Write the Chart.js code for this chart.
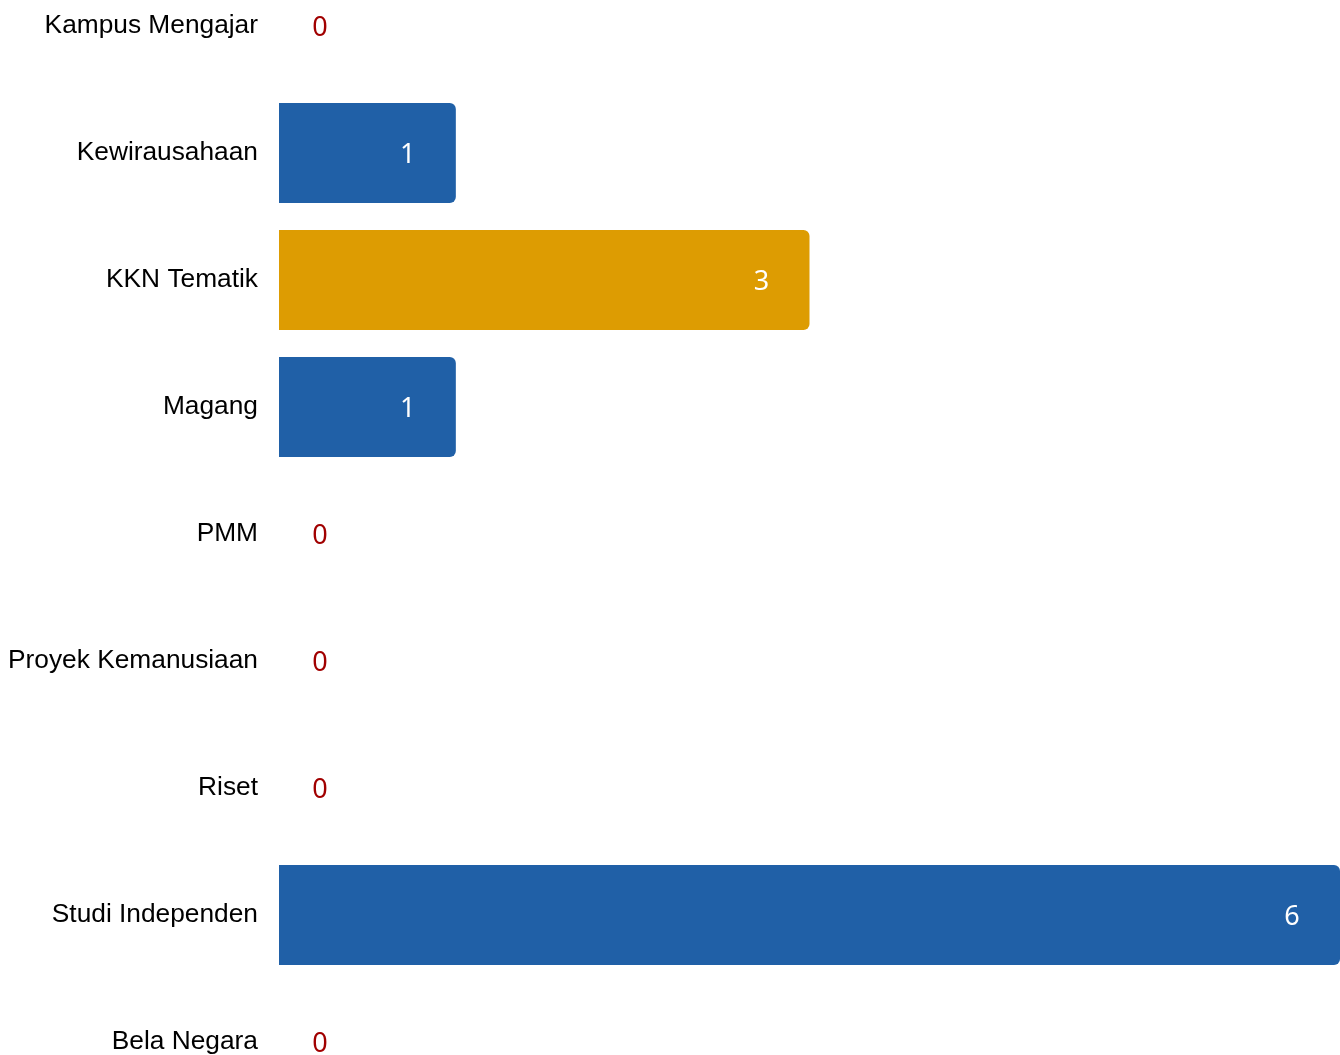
<!DOCTYPE html>
<html>
<head>
<meta charset="utf-8">
<script src="https://cdn.jsdelivr.net/npm/chart.js@4/dist/chart.umd.min.js"></script>
<style>
  html, body { margin: 0; padding: 0; background: #fff; }
  #wrap { width: 1340px; height: 1055px; position: relative; }
</style>
</head>
<body>
<div id="wrap"><canvas id="c"></canvas></div>
<script>
const categories = ["Kampus Mengajar", "Kewirausahaan", "KKN Tematik", "Magang", "PMM", "Proyek Kemanusiaan", "Riset", "Studi Independen", "Bela Negara"];
const values = [0, 1, 3, 1, 0, 0, 0, 6, 0];
const highlighted = "KKN Tematik";

const BLUE = "#2060a7";
const GOLD = "#dd9c02";
const barColors = categories.map(c => c === highlighted ? GOLD : BLUE);

const valueLabels = {
  id: "valueLabels",
  afterDatasetsDraw(chart) {
    const ctx = chart.ctx;
    const meta = chart.getDatasetMeta(0);
    ctx.save();
    ctx.font = "27px 'Noto Sans'";
    ctx.textAlign = "center";
    ctx.textBaseline = "middle";
    meta.data.forEach((bar, i) => {
      const v = values[i];
      if (v === 0) {
        ctx.fillStyle = "#a10000";
        ctx.fillText(String(v), bar.base + 41, bar.y + 2);
      } else {
        ctx.fillStyle = "#ffffff";
        ctx.fillText(String(v), bar.x - 48, bar.y + 2);
      }
    });
    ctx.restore();
  }
};

new Chart(document.getElementById("c"), {
  type: "bar",
  data: {
    labels: categories,
    datasets: [{
      data: values,
      backgroundColor: barColors,
      borderWidth: 0,
      borderRadius: 6,
      borderSkipped: "start",
      inflateAmount: 0,
      barThickness: 100
    }]
  },
  options: {
    indexAxis: "y",
    responsive: true,
    maintainAspectRatio: false,
    animation: false,
    layout: { padding: { top: 26, bottom: 13, left: 0, right: 0 } },
    plugins: {
      legend: { display: false },
      tooltip: { enabled: false }
    },
    scales: {
      x: {
        display: false,
        min: 0,
        max: 6
      },
      y: {
        offset: false,
        grid: { display: false, drawTicks: false },
        border: { display: false },
        ticks: {
          color: "#000",
          padding: 21,
          font: { family: "'Liberation Sans', Arial, sans-serif", size: 26.3 }
        },
        afterFit(scale) {
          scale.width = 279;
          scale.paddingTop = 0;
          scale.paddingBottom = 0;
        }
      }
    }
  },
  plugins: [valueLabels]
});
</script>
</body>
</html>
